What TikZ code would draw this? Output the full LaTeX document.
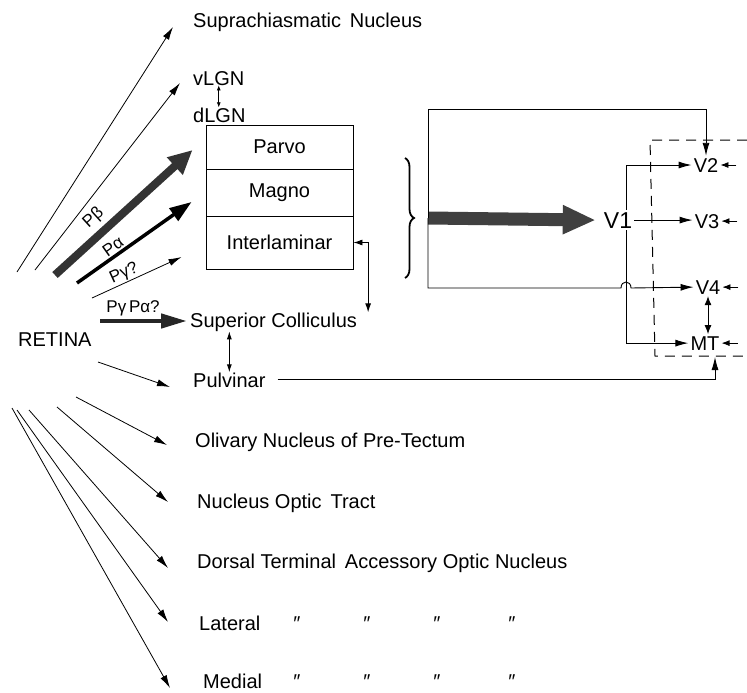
\documentclass[tikz,border=0pt]{standalone}
\usepackage{fontspec}
\setmainfont{Liberation Sans}
\usetikzlibrary{arrows.meta,positioning,calc,decorations.pathreplacing}

\begin{document}
\begin{tikzpicture}[x=1pt,y=-1pt,>={Latex[length=13pt,width=7pt]},
  lbl/.style={font=\fontsize{20}{24}\selectfont,inner sep=0pt,anchor=base west},
  area/.style={font=\fontsize{20}{24}\selectfont,inner sep=2pt,anchor=base},
  layer/.style={draw,line width=0.9pt,minimum width=147pt,font=\fontsize{20}{24}\selectfont},
  tag/.style={font=\fontsize{17}{19}\selectfont,inner sep=0.5pt,sloped,above},
  proj/.style={->,line width=0.8pt},
  link/.style={line width=0.9pt},
  tiny/.style={{Latex[length=5pt,width=4pt]}-{Latex[length=5pt,width=4pt]},line width=0.7pt},
  stub/.style={-{Latex[length=8pt,width=6pt]},line width=0.8pt}]
  \useasboundingbox (0,0) rectangle (747,693);

  % retina and its targets
  \node[lbl] (retina) at (18,346) {RETINA};
  \node[lbl] (scn)    at (193,28)  {Suprachiasmatic\, Nucleus};
  \node[lbl] (vlgn)   at (193,85)  {vLGN};
  \node[lbl] (dlgn)   at (193,122) {dLGN};
  \node[lbl] (supcol) at (190,327) {Superior Colliculus};
  \node[lbl] (pulv)   at (193,387) {Pulvinar};
  \node[lbl] (olive)  at (195,447) {Olivary Nucleus of Pre-Tectum};
  \node[lbl] (notr)   at (197,508) {Nucleus Optic\, Tract};
  \node[lbl] (dtaon)  at (197,568) {Dorsal Terminal\, Accessory Optic Nucleus};
  \node[lbl] (lat)    at (199,630) {Lateral};
  \node[lbl] (med)    at (203,688) {Medial};
  \foreach \x [count=\i] in {297,367,437,512} {
    \node[area,inner sep=0pt] (latd\i) at (\x,630) {″};
    \node[area,inner sep=0pt] (medd\i) at (\x,688) {″};
  }

  % dLGN layers
  \node[layer,minimum height=44pt] (parvo) at (279.5,147)   {Parvo};
  \node[layer,minimum height=47pt] (magno) at (279.5,192.5) {Magno};
  \node[layer,minimum height=53pt] (inter) at (279.5,242.5) {Interlaminar};

  % cortical areas
  \node[area,font=\fontsize{23}{26}\selectfont] (v1) at (618,228) {V1};
  \node[area] (v2) at (706,172) {V2};
  \node[area] (v3) at (707,228) {V3};
  \node[area] (v4) at (708,294) {V4};
  \node[area] (mt) at (705,350) {MT};

  % fibres leaving the retina
  \foreach \n/\px/\py in {scn/17/272, vlgn/35/270, parvo/55/275, magno/77/283,
      inter/92/298, supcol/100/321, pulv/98/362, olive/76/397, notr/57/407,
      dtaon/29/410, lat/17/410, med/12/408}
    \coordinate (from-\n) at (\px,\py);
  \draw[proj] (from-scn)  -- ([shift={(-20,-1)}]scn.base west);
  \draw[proj] (from-vlgn) -- ([shift={(-13,-2)}]vlgn.base west);
  \draw[-{Triangle[length=24pt,width=22pt]},line width=8pt,black!80]
       (from-parvo) -- ([shift={(-13,3)}]parvo.west)
       node[tag,black,pos=0.36,yshift=4pt] (pbeta) {Pβ};
  \draw[-{Triangle[length=22pt,width=15pt]},line width=3.5pt]
       (from-magno) -- ([shift={(-14,9.5)}]magno.west)
       node[tag,pos=0.36,yshift=1pt] (palpha) {Pα};
  \draw[proj] (from-inter) -- ([shift={(-24,14.5)}]inter.west)
       node[tag,pos=0.4] (pgamma) {Pγ?};
  \draw[-{Triangle[length=26pt,width=14pt]},line width=4.5pt,black!85]
       (from-supcol) -- ([shift={(-3,-6)}]supcol.base west)
       node[tag,black,pos=0.38,yshift=2pt] (pga) {Pγ\,Pα?};
  \draw[proj] (from-pulv)  -- ([shift={(-23,0)}]pulv.base west);
  \draw[proj] (from-olive) -- ([shift={(-28,-2)}]olive.base west);
  \draw[proj] (from-notr)  -- ([shift={(-29,-6)}]notr.base west);
  \draw[proj] (from-dtaon) -- ([shift={(-29,0)}]dtaon.base west);
  \draw[proj] (from-lat)   -- ([shift={(-31,-8)}]lat.base west);
  \draw[proj] (from-med)   -- ([shift={(-33,0)}]med.base west);

  % subcortical links
  \draw[tiny] (vlgn.south) -- (vlgn.south |- dlgn.north);
  \draw[link,{Latex[length=9pt,width=6pt]}-{Latex[length=9pt,width=6pt]}]
       (inter.east) -| ([xshift=11pt]supcol.north east);
  \draw[link,{Latex[length=8pt,width=5pt]}-{Latex[length=8pt,width=5pt]}]
       (pulv.north) -- (pulv.north |- supcol.south);

  % LGN output to cortex
  \draw[line width=1.8pt,decorate,decoration={brace,amplitude=9pt}] (405,158) -- (405,278);
  \coordinate (lgnout) at (428,218);
  \draw[-{Triangle[length=33pt,width=27pt]},line width=13pt,black!75]
       (lgnout) -- ([xshift=-6pt]v1.west);
  \draw[link,->] (lgnout) -- ++(0,-109) -| (v2.north);
  \draw[link,->] (lgnout) -- (428,288) -- (621,288)
       .. controls (621,280) and (631,280) .. (631,288) -- (v4.west);

  % V1 to extrastriate areas
  \draw[link,->] ([xshift=8pt]v1.north) |- (v2.west);
  \draw[link,->] (v1.east) -- (v1.east -| v3.west);
  \draw[link,->] ([xshift=8pt]v1.south) |- (mt.west);
  \draw[link,{Latex[length=9pt,width=7pt]}-{Latex[length=9pt,width=7pt]}]
       (v4.south) -- (v4.south |- mt.north);
  \foreach \v in {v2,v3,v4,mt}
    \draw[stub] ([xshift=16pt]\v.east) -- (\v.east);

  % pulvinar input to the dashed group
  \draw[line width=1pt,dash pattern=on 10pt off 7pt]
       (747,140) -- (650,140) -- (655,356) -- (747,356);
  \coordinate (dashin) at (715,357);
  \draw[link,->] ([xshift=12pt]pulv.east) -| (dashin);
\end{tikzpicture}
\end{document}
